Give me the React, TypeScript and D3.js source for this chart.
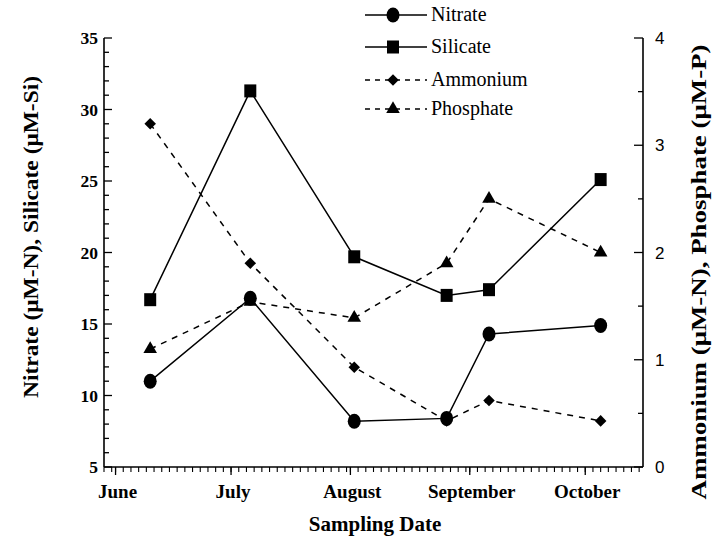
import React from "react";
import * as d3 from "d3";

const sampleDates = ["1995-06-10", "1995-07-06", "1995-08-02", "1995-08-26", "1995-09-06", "1995-10-05"];
const nitrate = [11.0, 16.8, 8.2, 8.4, 14.3, 14.9];
const silicate = [16.7, 31.3, 19.7, 17.0, 17.4, 25.1];
const ammonium = [3.2, 1.9, 0.93, 0.43, 0.62, 0.43];
const phosphate = [1.1, 1.54, 1.39, 1.9, 2.5, 2.0];
const monthStarts = ["1995-06-01", "1995-07-01", "1995-08-01", "1995-09-01", "1995-10-01"];
const monthLabels = ["June", "July", "August", "September", "October"];
const leftTicks = [5, 10, 15, 20, 25, 30, 35];
const rightTicks = [0, 1, 2, 3, 4];
const legendNames = ["Nitrate", "Silicate", "Ammonium", "Phosphate"];

const W = 715, H = 545;
const X0 = 104, X1 = 643, Y0 = 467, Y1 = 38;
const SERIF = "'Liberation Serif', 'DejaVu Serif', serif";
const SANS = "'Liberation Sans', Arial, sans-serif";

const x = d3.scaleUtc().domain([new Date("1995-05-29"), new Date("1995-10-16")]).range([X0, X1]);
const yL = d3.scaleLinear().domain([5, 35]).range([Y0, Y1]);
const yR = d3.scaleLinear().domain([0, 4]).range([Y0, Y1]);

type Kind = "circle" | "square" | "diamond" | "triangle";

function Marker({ kind, cx, cy }: { kind: Kind; cx: number; cy: number }) {
  if (kind === "circle") return <ellipse cx={cx} cy={cy} rx={6.5} ry={7.5} fill="#000" />;
  if (kind === "square") return <rect x={cx - 6} y={cy - 6.5} width={12} height={13} fill="#000" />;
  if (kind === "diamond") {
    const s = d3.symbol().type(d3.symbolDiamond2).size(85)();
    return <path d={s || ""} transform={`translate(${cx},${cy})`} fill="#000" />;
  }
  const t = d3.symbol().type(d3.symbolTriangle).size(80)();
  return <path d={t || ""} transform={`translate(${cx},${cy})`} fill="#000" />;
}

export default function App() {
  const dates = sampleDates.map((d) => new Date(d));
  const series = [
    { name: legendNames[0], vals: nitrate, y: yL, dash: undefined as string | undefined, kind: "circle" as Kind },
    { name: legendNames[1], vals: silicate, y: yL, dash: undefined, kind: "square" as Kind },
    { name: legendNames[2], vals: ammonium, y: yR, dash: "6,6", kind: "diamond" as Kind },
    { name: legendNames[3], vals: phosphate, y: yR, dash: "6,6", kind: "triangle" as Kind },
  ];
  const minorDays = d3.utcDay.every(2)!.range(x.domain()[0], x.domain()[1]);
  const leftMinor = d3.range(5, 36, 1);
  const rightMinor = d3.range(0, 4.01, 0.5);

  return (
    <svg width={W} height={H} style={{ position: "absolute", left: 0, top: 0, background: "#fff" }}>
      {/* axes lines */}
      <line x1={X0} x2={X0} y1={Y1} y2={Y0} stroke="#000" strokeWidth={1.6} />
      <line x1={X1} x2={X1} y1={Y1} y2={Y0} stroke="#000" strokeWidth={1.6} />
      <line x1={X0} x2={X1} y1={Y0} y2={Y0} stroke="#000" strokeWidth={1.6} />
      {/* left ticks */}
      {leftMinor.map((v) => (
        <line key={"lm" + v} x1={X0} x2={X0 + (v % 5 === 0 ? 8 : 5)} y1={yL(v)} y2={yL(v)} stroke="#000" strokeWidth={1.3} />
      ))}
      {leftTicks.map((v) => (
        <text key={"lt" + v} x={98} y={yL(v) + 6} textAnchor="end" fontFamily={SERIF} fontWeight="bold" fontSize={17.5}>
          {v}
        </text>
      ))}
      {/* right ticks */}
      {rightMinor.map((v) => (
        <line key={"rm" + v} x1={X1} x2={X1 - (Number.isInteger(v) ? 9 : 5)} y1={yR(v)} y2={yR(v)} stroke="#000" strokeWidth={1.3} />
      ))}
      {rightTicks.map((v) => (
        <text key={"rt" + v} x={655} y={yR(v) + 6} fontFamily={SANS} fontSize={17}>
          {v}
        </text>
      ))}
      {/* bottom ticks */}
      {minorDays.map((d, i) => (
        <line key={"bm" + i} x1={x(d)} x2={x(d)} y1={Y0} y2={Y0 + 5} stroke="#000" strokeWidth={1.1} />
      ))}
      {monthStarts.map((d, i) => (
        <line key={"bM" + i} x1={x(new Date(d))} x2={x(new Date(d))} y1={Y0} y2={Y0 + 8} stroke="#000" strokeWidth={1.3} />
      ))}
      {monthStarts.map((d, i) => (
        <text key={"bl" + i} x={x(new Date(d)) + 2} y={498} textAnchor="middle" fontFamily={SERIF} fontWeight="bold" fontSize={19}>
          {monthLabels[i]}
        </text>
      ))}
      {/* titles */}
      <text x={375} y={531} textAnchor="middle" fontFamily={SERIF} fontWeight="bold" fontSize={21}>
        Sampling Date
      </text>
      <text
        transform="translate(38,237) rotate(-90)"
        textAnchor="middle"
        fontFamily={SERIF}
        fontWeight="bold"
        fontSize={22}
        textLength={322}
        lengthAdjust="spacingAndGlyphs"
      >
        Nitrate (μM-N), Silicate (μM-Si)
      </text>
      <text
        transform="translate(706,272) rotate(-90)"
        textAnchor="middle"
        fontFamily={SERIF}
        fontWeight="bold"
        fontSize={22}
        textLength={455}
        lengthAdjust="spacingAndGlyphs"
      >
        Ammonium (μM-N), Phosphate (μM-P)
      </text>
      {/* series */}
      {series.map((s) => {
        const line = d3
          .line<number>()
          .x((_, i) => x(dates[i]))
          .y((v) => s.y(v));
        return (
          <g key={s.name}>
            <path d={line(s.vals) || ""} fill="none" stroke="#000" strokeWidth={1.5} strokeDasharray={s.dash} />
            {s.vals.map((v, i) => (
              <Marker key={i} kind={s.kind} cx={x(dates[i])} cy={s.y(v)} />
            ))}
          </g>
        );
      })}
      {/* legend */}
      {series.map((s, i) => {
        const ly = [15, 47, 80, 109][i];
        return (
          <g key={"lg" + s.name}>
            <line x1={365} x2={427} y1={ly} y2={ly} stroke="#000" strokeWidth={1.5} strokeDasharray={s.dash ? "5,5" : undefined} />
            <Marker kind={s.kind} cx={393} cy={ly} />
            <text x={431} y={ly + 6} fontFamily={SERIF} fontSize={20}>
              {s.name}
            </text>
          </g>
        );
      })}
    </svg>
  );
}
